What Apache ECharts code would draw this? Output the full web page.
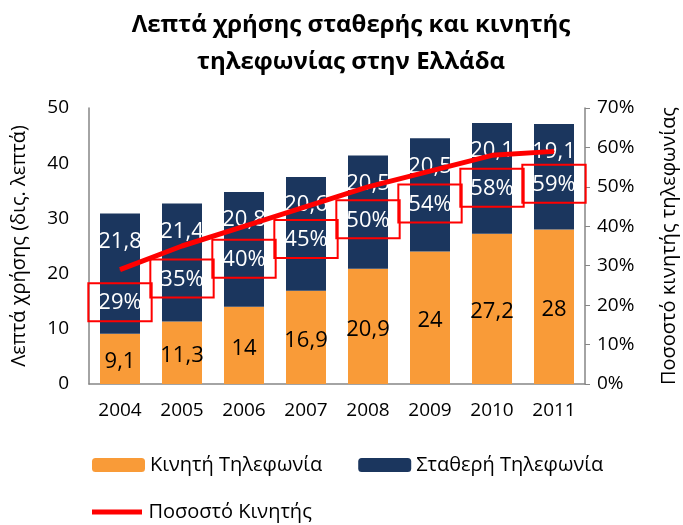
<!DOCTYPE html>
<html>
<head>
<meta charset="utf-8">
<script src="https://cdn.jsdelivr.net/npm/echarts@6/dist/echarts.min.js"></script>
<style>
  html, body { margin: 0; padding: 0; background: #fff; }
  #chart { width: 683px; height: 525px; }
</style>
</head>
<body>
<div id="chart"></div>
<script>
var years = ["2004", "2005", "2006", "2007", "2008", "2009", "2010", "2011"];
var mobile = [9.1, 11.3, 14, 16.9, 20.9, 24, 27.2, 28];
var fixed = [21.8, 21.4, 20.8, 20.6, 20.5, 20.5, 20.1, 19.1];
var mobileShare = [0.29, 0.35, 0.40, 0.45, 0.50, 0.54, 0.58, 0.59];

var font = "Open Sans";
var axisColor = "#868686";

function comma(v) {
  return String(v).replace(".", ",");
}

var myChart = echarts.init(document.getElementById("chart"));
var option = {
  animation: false,
  textStyle: { fontFamily: font },
  title: {
    text: "Λεπτά χρήσης σταθερής και κινητής\nτηλεφωνίας στην Ελλάδα",
    left: 346,
    top: 2,
    textAlign: "center",
    textStyle: {
      fontFamily: font,
      fontSize: 24,
      fontWeight: "bold",
      color: "#000",
      lineHeight: 37
    }
  },
  legend: [
    {
      data: ["Κινητή Τηλεφωνία", "Σταθερή Τηλεφωνία"],
      left: 92,
      top: 455,
      padding: 0,
      itemWidth: 53,
      itemHeight: 14,
      itemGap: 36,
      textStyle: { fontFamily: font, fontSize: 20, color: "#000" }
    },
    {
      data: [{ name: "Ποσοστό Κινητής", icon: "path://M0,0 L10,0 L10,1 L0,1 Z" }],
      left: 92,
      top: 502,
      padding: 0,
      itemWidth: 53,
      itemHeight: 5,
      textStyle: { fontFamily: font, fontSize: 20, color: "#000" }
    }
  ],
  grid: {
    left: 89,
    right: 98,
    top: 108,
    bottom: 141,
    outerBoundsMode: "none"
  },
  xAxis: {
    type: "category",
    data: years,
    axisTick: { show: false },
    axisLine: { lineStyle: { color: axisColor, width: 1.5 } },
    axisLabel: { color: "#000", fontSize: 19, margin: 17, fontFamily: font }
  },
  yAxis: [
    {
      type: "value",
      min: 0,
      max: 50,
      interval: 10,
      name: "Λεπτά χρήσης (δις. λεπτά)",
      nameLocation: "middle",
      nameGap: 60,
      nameTextStyle: { fontSize: 20, color: "#000", fontFamily: font },
      splitLine: { show: false },
      axisTick: { show: false },
      axisLine: { show: true, lineStyle: { color: axisColor, width: 1.5 } },
      axisLabel: { color: "#000", fontSize: 19, margin: 20, fontFamily: font }
    },
    {
      type: "value",
      min: 0,
      max: 0.7,
      interval: 0.1,
      name: "Ποσοστό κινητής τηλεφωνίας",
      nameLocation: "middle",
      nameGap: 74,
      nameTextStyle: { fontSize: 20, color: "#000", fontFamily: font },
      splitLine: { show: false },
      axisTick: { show: true, length: 5, lineStyle: { color: axisColor } },
      axisLine: { show: true, lineStyle: { color: axisColor, width: 1.5 } },
      axisLabel: {
        color: "#000",
        fontSize: 19,
        margin: 12,
        fontFamily: font,
        formatter: function (v) { return Math.round(v * 100) + "%"; }
      }
    }
  ],
  series: [
    {
      name: "Κινητή Τηλεφωνία",
      type: "bar",
      stack: "total",
      data: mobile,
      barWidth: 40,
      itemStyle: { color: "#F99B38" },
      label: {
        show: true,
        position: "inside",
        offset: [0, 3],
        color: "#000",
        fontSize: 22,
        fontFamily: font,
        formatter: function (p) { return comma(p.value); }
      }
    },
    {
      name: "Σταθερή Τηλεφωνία",
      type: "bar",
      stack: "total",
      data: fixed,
      barWidth: 40,
      itemStyle: { color: "#1B365E" },
      label: {
        show: true,
        position: "insideTop",
        distance: 17,
        color: "#fff",
        fontSize: 22,
        fontFamily: font,
        formatter: function (p) { return comma(p.value); }
      }
    },
    {
      name: "Ποσοστό Κινητής",
      type: "line",
      yAxisIndex: 1,
      data: mobileShare,
      symbol: "circle",
      symbolSize: 1,
      itemStyle: { color: "#FF0000" },
      lineStyle: { color: "#FF0000", width: 5 },
      label: {
        show: true,
        position: "bottom",
        distance: 13,
        color: "#fff",
        fontSize: 22,
        fontFamily: font,
        borderColor: "#FF0000",
        borderWidth: 2,
        padding: [9, 10, 7, 10],
        formatter: function (p) { return Math.round(p.value * 100) + "%"; }
      }
    }
  ]
};
myChart.setOption(option);
</script>
</body>
</html>
